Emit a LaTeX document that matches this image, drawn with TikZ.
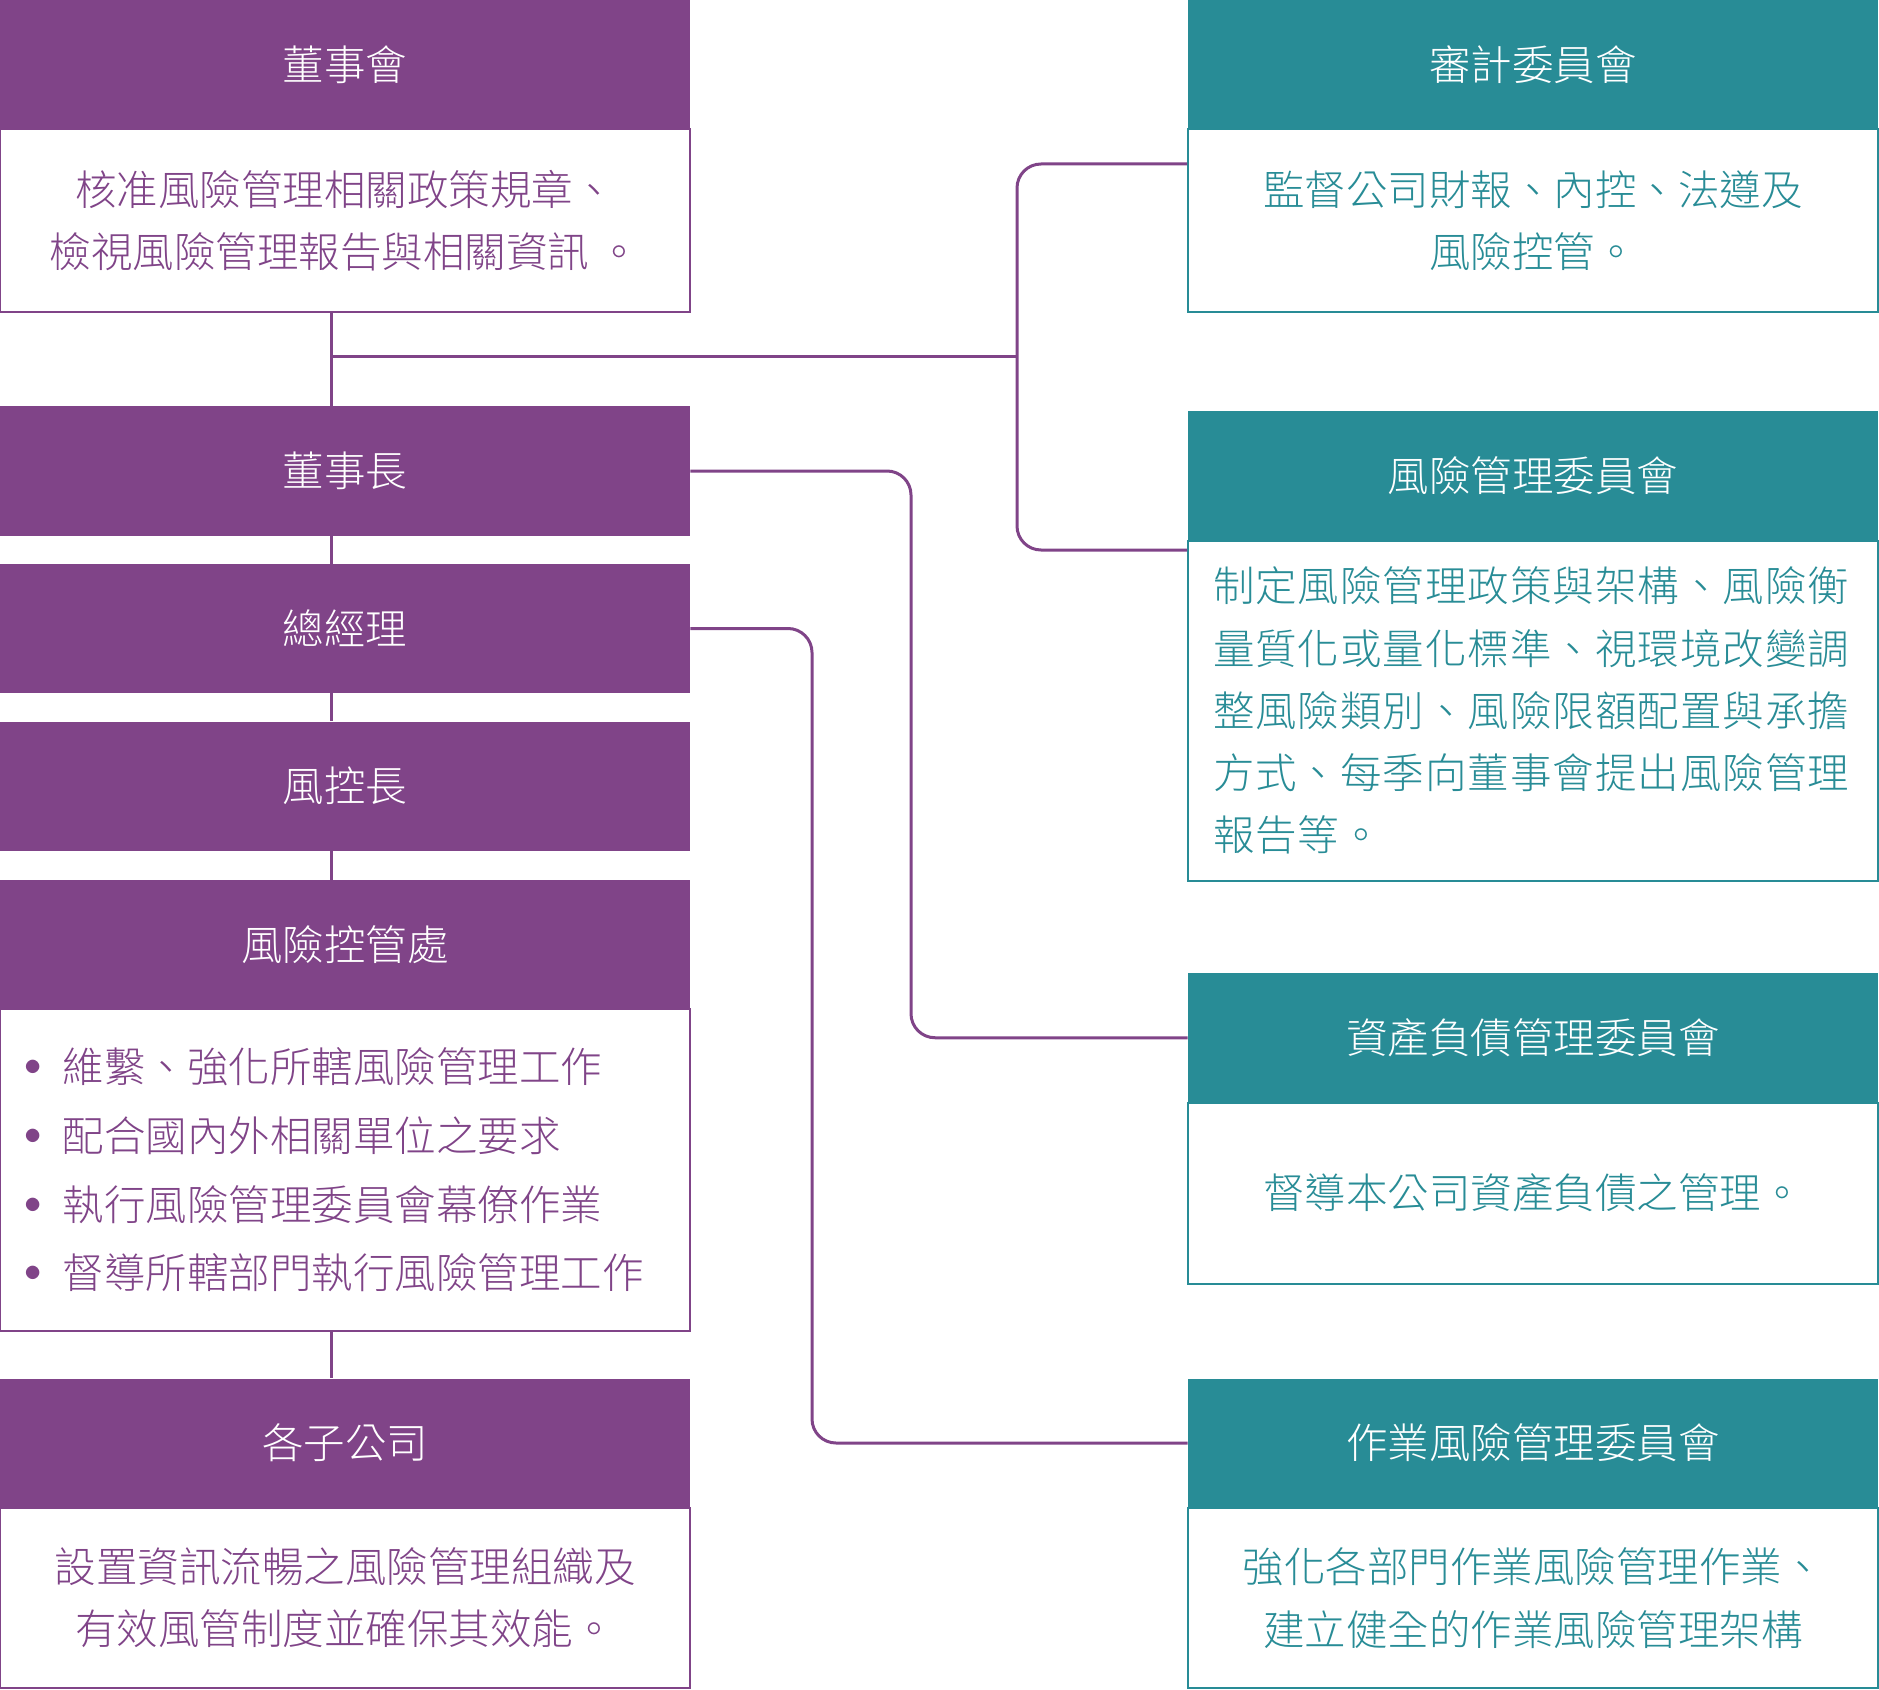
\documentclass[tikz,border=0pt]{standalone}
\usepackage{fontspec}
\setmainfont{Noto Sans CJK TC Light}
\usetikzlibrary{calc}
\definecolor{rm_purple}{RGB}{128, 68, 136}
\definecolor{rm_teal}{RGB}{40, 140, 150}
\newcommand\rmtext{\fontsize{20.75pt}{31.15pt}\selectfont}
\newcommand\rmlist{\fontsize{20.75pt}{34.35pt}\selectfont}
\newcommand\rmdot{\makebox[19pt][l]{\raisebox{3.5pt}{\fontsize{17pt}{17pt}\selectfont$\bullet$}}}
\tikzstyle{ph}=[rectangle,fill=rm_purple,text=white,font=\rmtext,
  inner sep=0pt,minimum width=345pt,minimum height=64.5pt]
\tikzstyle{th}=[rectangle,fill=rm_teal,text=white,font=\rmtext,
  inner sep=0pt,minimum width=345pt,minimum height=64.5pt]
\tikzstyle{pb}=[rectangle,fill=white,draw=rm_purple,text=rm_purple,font=\rmtext,
  line width=1pt,align=center,inner sep=0pt,minimum width=345pt]
\tikzstyle{tb}=[rectangle,fill=white,draw=rm_teal,text=rm_teal,font=\rmtext,
  line width=1pt,align=center,inner sep=0pt,minimum width=345pt]
\tikzstyle{link}=[draw=rm_purple,line width=1.5pt]

\begin{document}
\begin{tikzpicture}[x=0.5pt,y=-0.5pt]
    \useasboundingbox (0, 0) rectangle (1879, 1690);
    % left column
    \node [style=pb, minimum height=91.5pt] (1) at (345, 220.5) {核准風險管理相關政策規章、\\檢視風險管理報告與相關資訊 。};
    \node [style=ph] (0) at (345, 65) {董事會};
    \node [style=ph] (2) at (345, 471) {董事長};
    \node [style=ph] (3) at (345, 628.5) {總經理};
    \node [style=ph] (4) at (345, 786) {風控長};
    \node [style=pb, minimum height=161pt, text width=320pt, inner xsep=12.5pt, align=left, font=\rmlist] (6) at (345, 1170)
        {\rmdot 維繫、強化所轄風險管理工作\\\rmdot 配合國內外相關單位之要求\\\rmdot 執行風險管理委員會幕僚作業\\\rmdot 督導所轄部門執行風險管理工作};
    \node [style=ph] (5) at (345, 944.5) {風險控管處};
    \node [style=pb, minimum height=90pt] (8) at (345, 1598) {設置資訊流暢之風險管理組織及\\有效風管制度並確保其效能。};
    \node [style=ph] (7) at (345, 1443) {各子公司};
    % right column
    \node [style=tb, minimum height=91.5pt] (11) at (1533, 220.5) {監督公司財報、內控、法遵及\\風險控管。};
    \node [style=th] (10) at (1533, 65) {審計委員會};
    \node [style=tb, minimum height=170.25pt, text width=320pt, inner xsep=12.5pt, align=left] (13) at (1533, 710.75)
        {\addfontfeatures{LetterSpace=2.4}制定風險管理政策與架構、風險衡\\量質化或量化標準、視環境改變調\\整風險類別、風險限額配置與承擔\\方式、每季向董事會提出風險管理\\報告等。};
    \node [style=th] (12) at (1533, 475.75) {風險管理委員會};
    \node [style=tb, minimum height=90.5pt] (15) at (1533, 1193) {督導本公司資產負債之管理。};
    \node [style=th] (14) at (1533, 1037.75) {資產負債管理委員會};
    \node [style=tb, minimum height=90pt] (17) at (1533, 1598) {強化各部門作業風險管理作業、\\建立健全的作業風險管理架構};
    \node [style=th] (16) at (1533, 1443) {作業風險管理委員會};
    % connectors
    \coordinate (18) at (331, 357);
    \coordinate (19) at (1017, 357);
    \coordinate (20) at (911, 800);
    \coordinate (21) at (812, 1000);
    \draw [style=link] (1.south -| 18) to (2.north -| 18);
    \draw [style=link] (2.south -| 18) to (3.north -| 18);
    \draw [style=link] (3.south -| 18) to (4.north -| 18);
    \draw [style=link] (4.south -| 18) to (5.north -| 18);
    \draw [style=link] (6.south -| 18) to (7.north -| 18);
    \draw [style=link] (18) to (19);
    \draw [style=link, rounded corners=12pt] ($(11.north west)+(0, 36)$) -| (19) |- ($(13.north west)+(0, 10.5)$);
    \draw [style=link, rounded corners=12pt] (2.east) -| (20) |- (14.west);
    \draw [style=link, rounded corners=12pt] (3.east) -| (21) |- (16.west);
\end{tikzpicture}
\end{document}
